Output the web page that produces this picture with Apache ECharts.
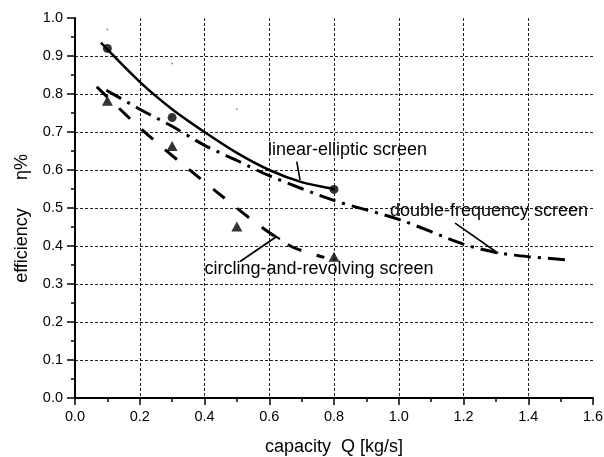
<!DOCTYPE html>
<html>
<head>
<meta charset="utf-8">
<script src="https://cdn.jsdelivr.net/npm/echarts@6/dist/echarts.min.js"></script>
<style>
html,body{margin:0;padding:0;background:#fff;}
#chart{width:604px;height:457px;}
</style>
</head>
<body>
<div id="chart"></div>
<script>
// ---- data ----
const xTicks = [0, 0.2, 0.4, 0.6, 0.8, 1.0, 1.2, 1.4, 1.6];
const yTicks = [0, 0.1, 0.2, 0.3, 0.4, 0.5, 0.6, 0.7, 0.8, 0.9, 1.0];

// linear-elliptic screen
const ellipticCurve = [[0.08,0.935],[0.2,0.832],[0.3,0.76],[0.4,0.70],[0.5,0.645],[0.6,0.60],[0.7,0.568],[0.8,0.55]];
const ellipticPoints = [[0.1,0.92],[0.3,0.738],[0.8,0.549]];

// double-frequency screen
const doubleFreqCurve = [[0.097,0.81],[0.2,0.76],[0.3,0.715],[0.4,0.665],[0.5,0.625],[0.6,0.585],[0.8,0.52],[1.0,0.47],[1.2,0.405],[1.3,0.383],[1.4,0.372],[1.53,0.363]];

// circling-and-revolving screen
const circlingCurve = [[0.067,0.819],[0.175,0.731],[0.25,0.674],[0.33,0.617],[0.45,0.534],[0.56,0.46],[0.67,0.398],[0.77,0.37]];
const circlingPoints = [[0.1,0.782],[0.3,0.663],[0.5,0.451],[0.8,0.372]];

// small stray dots in the picture
const strayDots = [[0.1,0.97],[0.3,0.88],[0.5,0.76]];

// annotations (data coordinates)
const labelTexts = ['linear-elliptic screen', 'double-frequency screen', 'circling-and-revolving screen'];
const labelAnchors = [[0.596,0.652],[0.973,0.492],[0.40,0.34]];
const leaderEllipticLine = [[0.685,0.622],[0.695,0.574]];
const leaderDoubleLine = [[1.174,0.46],[1.307,0.381]];
const leaderCirclingLine = [[0.51,0.359],[0.623,0.425]];
const circlingArrowBar = [[0.602,0.435],[0.633,0.418]];

const FONT = '"Liberation Sans", Arial, Helvetica, sans-serif';

const chart = echarts.init(document.getElementById('chart'), null, {renderer:'canvas'});

function leader(data, w) {
  return {
    type:'line', data:data, symbol:'none', silent:true, z:4,
    lineStyle:{color:'#000', width:w||1.6, type:'solid'}
  };
}

const option = {
  animation:false,
  backgroundColor:'#fff',
  grid:{left:75, right:11, top:18, bottom:59, containLabel:false, outerBoundsMode:'none'},
  xAxis:{
    type:'value', min:0, max:1.6, interval:0.2,
    name:'capacity  Q [kg/s]', nameLocation:'middle', nameGap:40,
    nameTextStyle:{fontFamily:FONT, fontSize:18, color:'#000'},
    axisLine:{show:true, onZero:false, lineStyle:{color:'#000', width:2}},
    axisTick:{show:true, length:7, lineStyle:{color:'#000', width:1.5}},
    minorTick:{show:true, splitNumber:2, length:4, lineStyle:{color:'#000', width:1.5}},
    axisLabel:{fontFamily:FONT, fontSize:14.5, color:'#000', margin:11,
      formatter:function(v){return v.toFixed(1);}},
    splitLine:{show:true, showMinLine:false, showMaxLine:false,
      lineStyle:{color:'#222', width:1, type:[3,2]}}
  },
  yAxis:{
    type:'value', min:0, max:1.0, interval:0.1,
    axisLine:{show:true, onZero:false, lineStyle:{color:'#000', width:2}},
    axisTick:{show:true, length:8, lineStyle:{color:'#000', width:1.5}},
    minorTick:{show:true, splitNumber:2, length:4, lineStyle:{color:'#000', width:1.5}},
    axisLabel:{fontFamily:FONT, fontSize:14.5, color:'#000', margin:12,
      formatter:function(v){return v.toFixed(1);}},
    splitLine:{show:true, showMinLine:false, showMaxLine:false,
      lineStyle:{color:'#222', width:1, type:[3,2]}}
  },
  series:[
    {type:'line', name:'linear-elliptic screen', data:ellipticCurve, smooth:0.3,
      symbol:'none', lineStyle:{color:'#000', width:2.5, type:'solid'}, z:3},
    {type:'scatter', data:ellipticPoints, symbol:'circle', symbolSize:9,
      itemStyle:{color:'#000'}, z:5},
    {type:'line', name:'double-frequency screen', data:doubleFreqCurve, smooth:0.3,
      symbol:'none', lineStyle:{color:'#000', width:3, type:[17,7,3,7], cap:'butt'}, z:3},
    {type:'line', name:'circling-and-revolving screen', data:circlingCurve, smooth:0.3,
      symbol:'none', lineStyle:{color:'#000', width:3, type:[15,16], cap:'butt'}, z:3},
    {type:'scatter', data:circlingPoints, symbol:'triangle', symbolSize:[11,10],
      itemStyle:{color:'#000'}, z:5},
    {type:'scatter', data:strayDots, symbol:'rect', symbolSize:1.5,
      itemStyle:{color:'#555'}, z:2},
    leader(leaderEllipticLine, 1.6),
    leader(leaderDoubleLine, 1.6),
    leader(leaderCirclingLine, 1.8),
    leader(circlingArrowBar, 2.2)
  ]
};
chart.setOption(option);

const graphics = labelTexts.map(function(t, i){
  const p = chart.convertToPixel({gridIndex:0}, labelAnchors[i]);
  return {
    type:'text', x:p[0], y:p[1], z:10, silent:true,
    style:{text:t, fontFamily:FONT, fontSize:18, fill:'#000',
      align:'left', verticalAlign:'middle'}
  };
});
graphics.push({
  type:'text', x:22, y:245.5, rotation:Math.PI/2, z:10, silent:true,
  style:{text:'efficiency', fontFamily:FONT, fontSize:18, fill:'#000', align:'center', verticalAlign:'middle'}
});
graphics.push({
  type:'text', x:22, y:167, rotation:Math.PI/2, z:10, silent:true,
  style:{text:'η%', fontFamily:FONT, fontSize:18, fill:'#000', align:'center', verticalAlign:'middle'}
});
chart.setOption({graphic:graphics});
</script>
</body>
</html>
